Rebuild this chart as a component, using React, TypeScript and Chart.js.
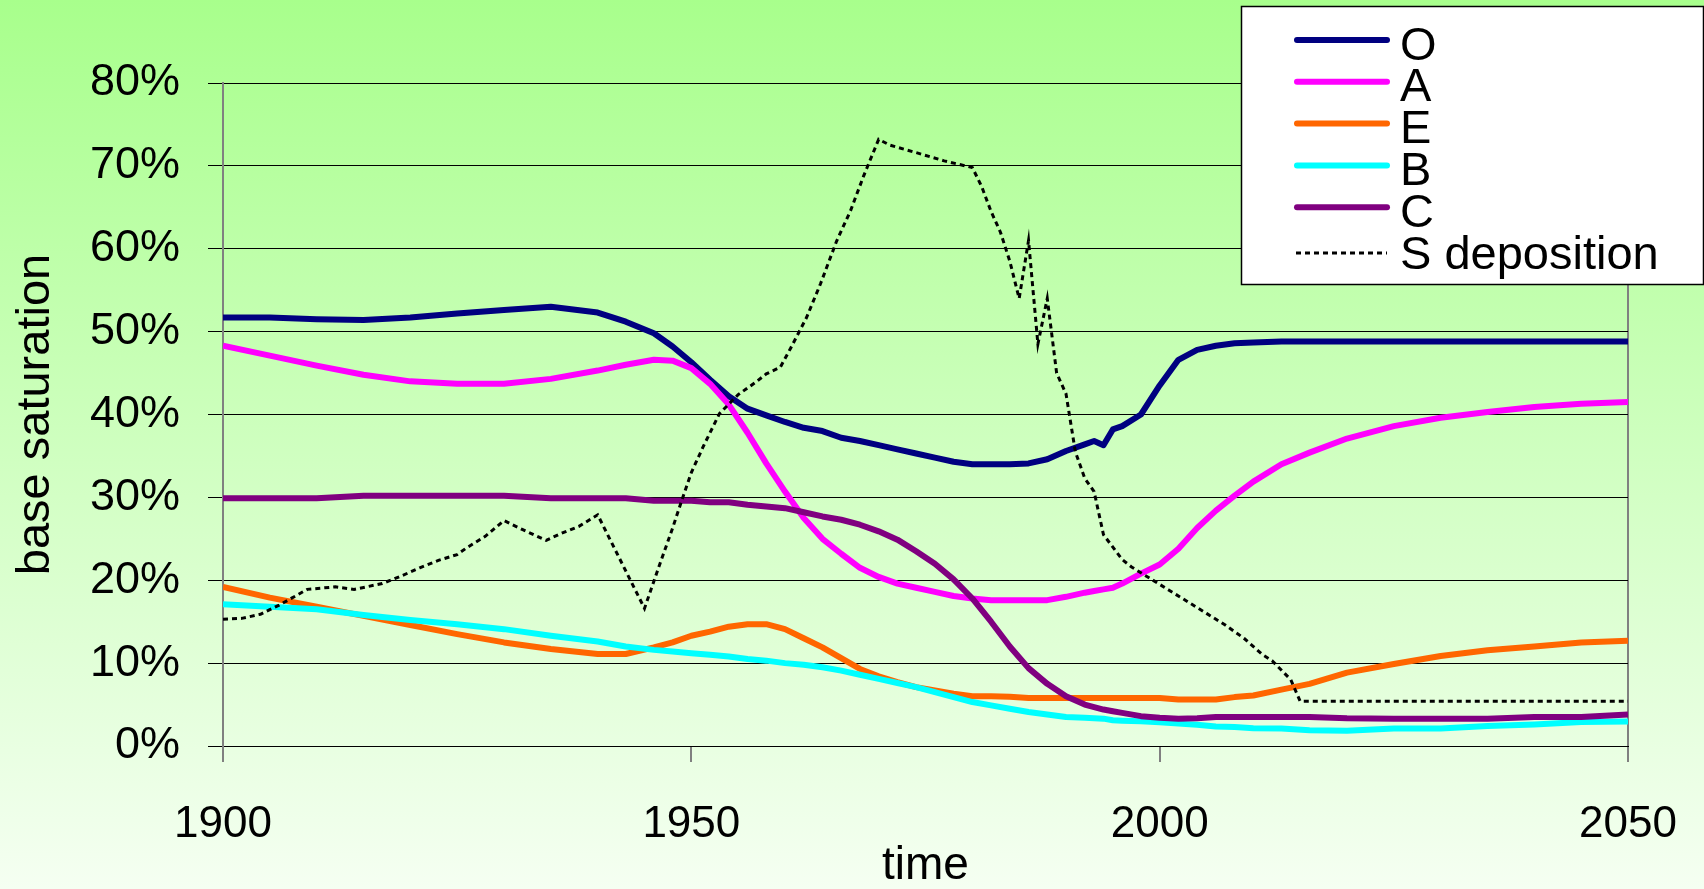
import { useEffect, useRef } from "react";
import { Chart, registerables } from "chart.js";

Chart.register(...registerables);

// Sampling years shared by the soil horizon series
const years = [
  1900, 1905, 1910, 1915, 1920, 1925, 1930, 1935, 1940, 1943, 1946, 1948,
  1950, 1952, 1954, 1956, 1958, 1960, 1962, 1964, 1966, 1968, 1970, 1972,
  1974, 1976, 1978, 1980, 1982, 1984, 1986, 1988, 1990, 1992, 1993, 1994,
  1995, 1996, 1998, 2000, 2002, 2004, 2006, 2008, 2010, 2013, 2016, 2020,
  2025, 2030, 2035, 2040, 2045, 2050,
];

// Base saturation (%) per horizon
const horizonO = [
  51.7, 51.7, 51.5, 51.4, 51.7, 52.2, 52.6, 53.0, 52.3, 51.2, 49.8, 48.2,
  46.3, 44.2, 42.2, 40.7, 39.9, 39.1, 38.4, 38.0, 37.2, 36.8, 36.3, 35.8,
  35.3, 34.8, 34.3, 34.0, 34.0, 34.0, 34.1, 34.6, 35.6, 36.4, 36.8, 36.3,
  38.2, 38.6, 40.0, 43.5, 46.6, 47.8, 48.3, 48.6, 48.7, 48.8, 48.8, 48.8,
  48.8, 48.8, 48.8, 48.8, 48.8, 48.8,
];
const horizonA = [
  48.3, 47.1, 45.9, 44.8, 44.0, 43.7, 43.7, 44.3, 45.3, 46.0, 46.6, 46.5,
  45.6, 43.7, 41.2, 37.8, 34.1, 30.7, 27.5, 25.0, 23.2, 21.5, 20.4, 19.6,
  19.1, 18.6, 18.1, 17.8, 17.6, 17.6, 17.6, 17.6, 18.0, 18.5, 18.7, 18.9,
  19.1, 19.6, 20.8, 21.9, 23.8, 26.3, 28.4, 30.2, 31.9, 34.0, 35.4, 37.1,
  38.6, 39.6, 40.3, 40.9, 41.3, 41.5,
];
const horizonE = [
  19.2, 17.9, 16.8, 15.7, 14.6, 13.5, 12.5, 11.7, 11.1, 11.1, 11.9, 12.5,
  13.3, 13.8, 14.4, 14.7, 14.7, 14.1, 13.0, 11.9, 10.6, 9.3, 8.4, 7.7,
  7.1, 6.7, 6.3, 6.0, 6.0, 5.95, 5.8, 5.8, 5.8, 5.8, 5.8, 5.8,
  5.8, 5.8, 5.8, 5.8, 5.6, 5.6, 5.6, 5.9, 6.1, 6.8, 7.5, 8.85,
  9.9, 10.85, 11.55, 12.0, 12.5, 12.7,
];
const horizonB = [
  17.1, 16.8, 16.5, 15.8, 15.2, 14.7, 14.1, 13.3, 12.6, 12.0, 11.6, 11.4,
  11.2, 11.0, 10.8, 10.5, 10.3, 10.0, 9.8, 9.5, 9.1, 8.6, 8.1, 7.6,
  7.1, 6.5, 5.9, 5.3, 4.9, 4.5, 4.1, 3.8, 3.5, 3.4, 3.35, 3.3,
  3.1, 3.05, 3.0, 2.85, 2.7, 2.55, 2.35, 2.3, 2.15, 2.1, 1.9, 1.85,
  2.1, 2.1, 2.4, 2.6, 2.9, 2.95,
];
const horizonC = [
  29.9, 29.9, 29.9, 30.2, 30.2, 30.2, 30.2, 29.9, 29.9, 29.9, 29.6, 29.6,
  29.6, 29.4, 29.4, 29.1, 28.9, 28.7, 28.2, 27.7, 27.3, 26.7, 25.9, 24.9,
  23.5, 22.0, 20.1, 17.8, 15.0, 12.0, 9.4, 7.5, 6.0, 5.0, 4.7, 4.4,
  4.2, 4.0, 3.6, 3.4, 3.3, 3.35, 3.5, 3.5, 3.5, 3.5, 3.5, 3.35,
  3.3, 3.3, 3.3, 3.5, 3.5, 3.8,
];

// Sulphur deposition (relative, same % axis)
const sYears = [
  1900, 1902, 1904, 1906, 1909, 1912, 1914, 1917, 1919, 1921, 1923, 1925,
  1926, 1928, 1930, 1932, 1934.5, 1936, 1938, 1940, 1945, 1946.5, 1948, 1949,
  1950, 1951.3, 1953, 1955, 1957, 1958, 1959.5, 1960.6, 1962.3, 1963.8, 1965.5,
  1967, 1968.4, 1970, 1971.2, 1974, 1977, 1980, 1981, 1982, 1983, 1984, 1985,
  1986, 1987, 1988, 1989, 1990, 1991, 1992, 1993, 1994, 1996, 1997, 1999,
  2001, 2003, 2005, 2007, 2009, 2011, 2012, 2014, 2015, 2050,
];
const sDeposition = [
  15.3, 15.4, 15.9, 17.0, 18.9, 19.2, 18.9, 19.6, 20.5, 21.5, 22.4, 23.1,
  23.9, 25.3, 27.2, 26.1, 24.8, 25.6, 26.5, 27.9, 16.6, 21.5, 26.3, 29.7,
  33.0, 36.2, 40.1, 42.4, 44.0, 44.9, 45.7, 48.0, 51.7, 55.8, 60.9,
  64.6, 68.8, 73.2, 72.5, 71.6, 70.6, 69.8, 67.5, 64.5, 62.0, 58.5, 54.0,
  61.0, 48.5, 54.0, 45.0, 42.5, 35.5, 32.3, 30.7, 25.5, 22.5, 21.6, 20.2,
  18.8, 17.4, 16.0, 14.6, 13.0, 11.0, 10.3, 8.0, 5.4, 5.4,
];

const horizonLabels = ["O", "A", "E", "B", "C"];
const horizonColors = ["#000080", "#FF00FF", "#FF6600", "#00FFFF", "#800080"];
const horizonValues = [horizonO, horizonA, horizonE, horizonB, horizonC];
const sLabel = "S deposition";

const FONT = "'Liberation Sans', Arial, Helvetica, sans-serif";
const AXIS_GREY = "#808080";

// Boxed legend in the top-right corner, drawn over the plot
const boxLegend = {
  id: "boxLegend",
  afterDraw(chart: any) {
    const ctx: CanvasRenderingContext2D = chart.ctx;
    const boxLeft = 1241;
    const boxTop = 6;
    const boxRight = 1703;
    const boxBottom = 284;
    ctx.save();
    ctx.fillStyle = "#ffffff";
    ctx.fillRect(boxLeft, boxTop, boxRight - boxLeft, boxBottom - boxTop);
    ctx.strokeStyle = "#000000";
    ctx.lineWidth = 1.5;
    ctx.strokeRect(boxLeft + 0.5, boxTop + 0.5, boxRight - boxLeft, boxBottom - boxTop);

    ctx.font = `47px ${FONT}`;
    ctx.textAlign = "left";
    ctx.textBaseline = "alphabetic";
    chart.data.datasets.forEach((ds: any, i: number) => {
      const baseline = 59.5 + 41.8 * i;
      const dashed = Array.isArray(ds.borderDash) && ds.borderDash.length > 0;
      const lineY = baseline - (dashed ? 15.5 : 19.5);
      ctx.beginPath();
      ctx.strokeStyle = ds.borderColor;
      if (dashed) {
        ctx.lineWidth = 3;
        ctx.lineCap = "butt";
        ctx.setLineDash([5, 4]);
        ctx.moveTo(1296, lineY);
        ctx.lineTo(1387, lineY);
      } else {
        ctx.lineWidth = 6;
        ctx.lineCap = "round";
        ctx.setLineDash([]);
        ctx.moveTo(1297, lineY);
        ctx.lineTo(1387, lineY);
      }
      ctx.stroke();
      ctx.setLineDash([]);
      ctx.fillStyle = "#000000";
      ctx.fillText(ds.label, 1400, baseline);
    });
    ctx.restore();
  },
};

export default function App() {
  const canvasRef = useRef<HTMLCanvasElement | null>(null);

  useEffect(() => {
    if (!canvasRef.current) return;

    const horizonSets = horizonLabels.map((label, i) => ({
      label,
      data: years.map((x, j) => ({ x, y: horizonValues[i][j] })),
      borderColor: horizonColors[i],
      backgroundColor: horizonColors[i],
      borderWidth: 6,
      borderJoinStyle: "round" as const,
      pointRadius: 0,
      tension: 0,
      fill: false,
      order: horizonLabels.length - i,
    }));

    const sSet = {
      label: sLabel,
      data: sYears.map((x, j) => ({ x, y: sDeposition[j] })),
      borderColor: "#000000",
      backgroundColor: "#000000",
      borderWidth: 3,
      borderDash: [5, 4],
      pointRadius: 0,
      tension: 0,
      fill: false,
      order: 0,
    };

    const chart = new Chart(canvasRef.current, {
      type: "line",
      data: { datasets: [...horizonSets, sSet] as any },
      plugins: [boxLegend],
      options: {
        animation: false,
        responsive: true,
        maintainAspectRatio: false,
        layout: { padding: { top: 83, right: 76, left: 0, bottom: 0 } },
        plugins: {
          legend: { display: false },
          tooltip: { enabled: false },
        },
        scales: {
          x: {
            type: "linear",
            min: 1900,
            max: 2050,
            afterFit: (scale: any) => {
              scale.height = 143;
              scale.paddingLeft = 0;
              scale.paddingRight = 0;
            },
            ticks: {
              stepSize: 50,
              autoSkip: false,
              maxRotation: 0,
              padding: 36,
              color: "#000000",
              font: { family: FONT, size: 44 },
              callback: (v: any) => String(v),
            },
            grid: {
              drawOnChartArea: true,
              color: (c: any) =>
                c.tick && (c.tick.value === 1900 || c.tick.value === 2050)
                  ? AXIS_GREY
                  : "rgba(0,0,0,0)",
              tickColor: AXIS_GREY,
              lineWidth: 2,
              tickLength: 16,
            },
            border: { display: true, color: "#000000", width: 1 },
            title: {
              display: true,
              text: "time",
              color: "#000000",
              font: { family: FONT, size: 46, lineHeight: 1 },
              padding: { top: 0, bottom: 0 },
            },
          },
          y: {
            min: 0,
            max: 80,
            afterFit: (scale: any) => {
              scale.width = 223;
              scale.paddingTop = 0;
              scale.paddingBottom = 0;
            },
            ticks: {
              stepSize: 10,
              padding: 28,
              color: "#000000",
              font: { family: FONT, size: 45 },
              callback: (v: any) => `${v}%`,
            },
            grid: {
              color: "#000000",
              lineWidth: 1,
              tickLength: 15,
            },
            border: { display: true, color: AXIS_GREY, width: 2 },
            title: {
              display: true,
              text: "base saturation",
              color: "#000000",
              font: { family: FONT, size: 47, lineHeight: 1 },
              padding: { top: 13, bottom: 0 },
            },
          },
        },
      } as any,
    });

    return () => chart.destroy();
  }, []);

  return (
    <div
      style={{
        position: "fixed",
        left: 0,
        top: 0,
        width: "100vw",
        height: "100vh",
        background: "linear-gradient(180deg, #a8ff8c 0%, #f5fff2 100%)",
      }}
    >
      <canvas ref={canvasRef} />
    </div>
  );
}
